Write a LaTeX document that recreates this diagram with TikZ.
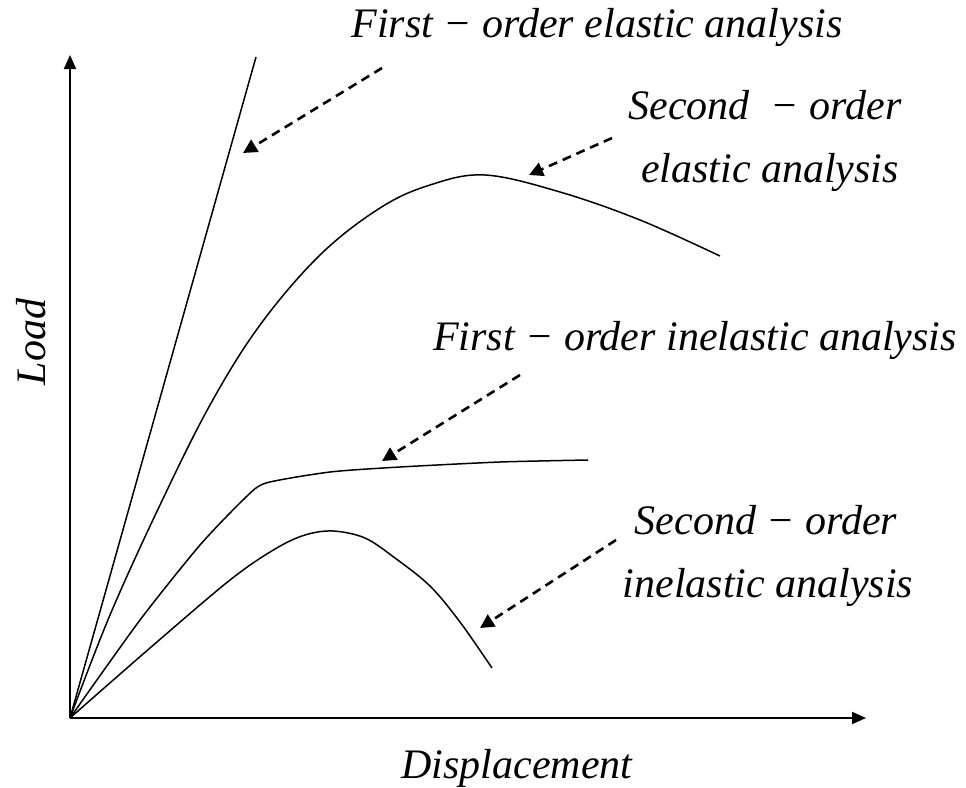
\documentclass[tikz,border=0pt]{standalone}
\usepackage{fontspec}
\setmainfont{Liberation Serif}
\usetikzlibrary{arrows.meta}
\begin{document}
\begin{tikzpicture}[x=1pt,y=-1pt,
  axis/.style={line width=2pt,-{Triangle[length=14pt,width=12pt]}},
  curve/.style={line width=1.5pt},
  pointer/.style={line width=2.6pt,dash pattern=on 9pt off 6pt,-{Triangle[length=14pt,width=14pt]}},
  lbl/.style={font=\fontsize{42}{46}\selectfont\itshape,inner sep=0pt,anchor=center}]
\useasboundingbox (0,0) rectangle (966,787);
\coordinate (O) at (70,718);
\coordinate (ytop) at (70,55);
\coordinate (xend) at (866,718);
\draw[axis] (O) -- (ytop);
\draw[axis] (O) -- (xend);
% first-order elastic
\coordinate (fe) at (256,57);
\draw[curve] (O) -- (fe);
% second-order elastic
\draw[curve] plot[smooth,tension=0.6] coordinates {(70,718) (110,615) (160,505) (210,405) (260,325) (320,255) (380,208) (430,185) (485,175) (560,192) (640,220) (720,256)};
% first-order inelastic
\draw[curve] plot[smooth,tension=0.4] coordinates {(70,718) (140,620) (200,545) (245,498) (266,483) (330,472) (400,467) (500,462) (588,460)};
% second-order inelastic
\draw[curve] plot[smooth,tension=0.55] coordinates {(70,718) (150,648) (230,580) (275,549) (305,535) (333,531) (365,538) (395,558) (430,586) (460,622) (492,668)};
% labels
\node[lbl] (t1) at (597,27) {First − order elastic analysis};
\node[lbl] (t2a) at (765,105) {Second \ − order};
\node[lbl] (t2b) at (770,172) {elastic analysis};
\node[lbl] (t3) at (695,340) {First − order inelastic analysis};
\node[lbl] (t4a) at (766,520) {Second − order};
\node[lbl] (t4b) at (768,587) {inelastic analysis};
\node[lbl,rotate=90] (ylab) at (31,342) {Load};
\node[lbl] (xlab) at (517,768) {Displacement};
% pointers
\coordinate (p1s) at (382,68); \coordinate (p1e) at (243,153);
\coordinate (p2s) at (612,138); \coordinate (p2e) at (529,175);
\coordinate (p3s) at (520,375); \coordinate (p3e) at (382,461);
\coordinate (p4s) at (616,540); \coordinate (p4e) at (480,628);
\draw[pointer] (p1s) -- (p1e);
\draw[pointer] (p2s) -- (p2e);
\draw[pointer] (p3s) -- (p3e);
\draw[pointer] (p4s) -- (p4e);
\end{tikzpicture}
\end{document}
